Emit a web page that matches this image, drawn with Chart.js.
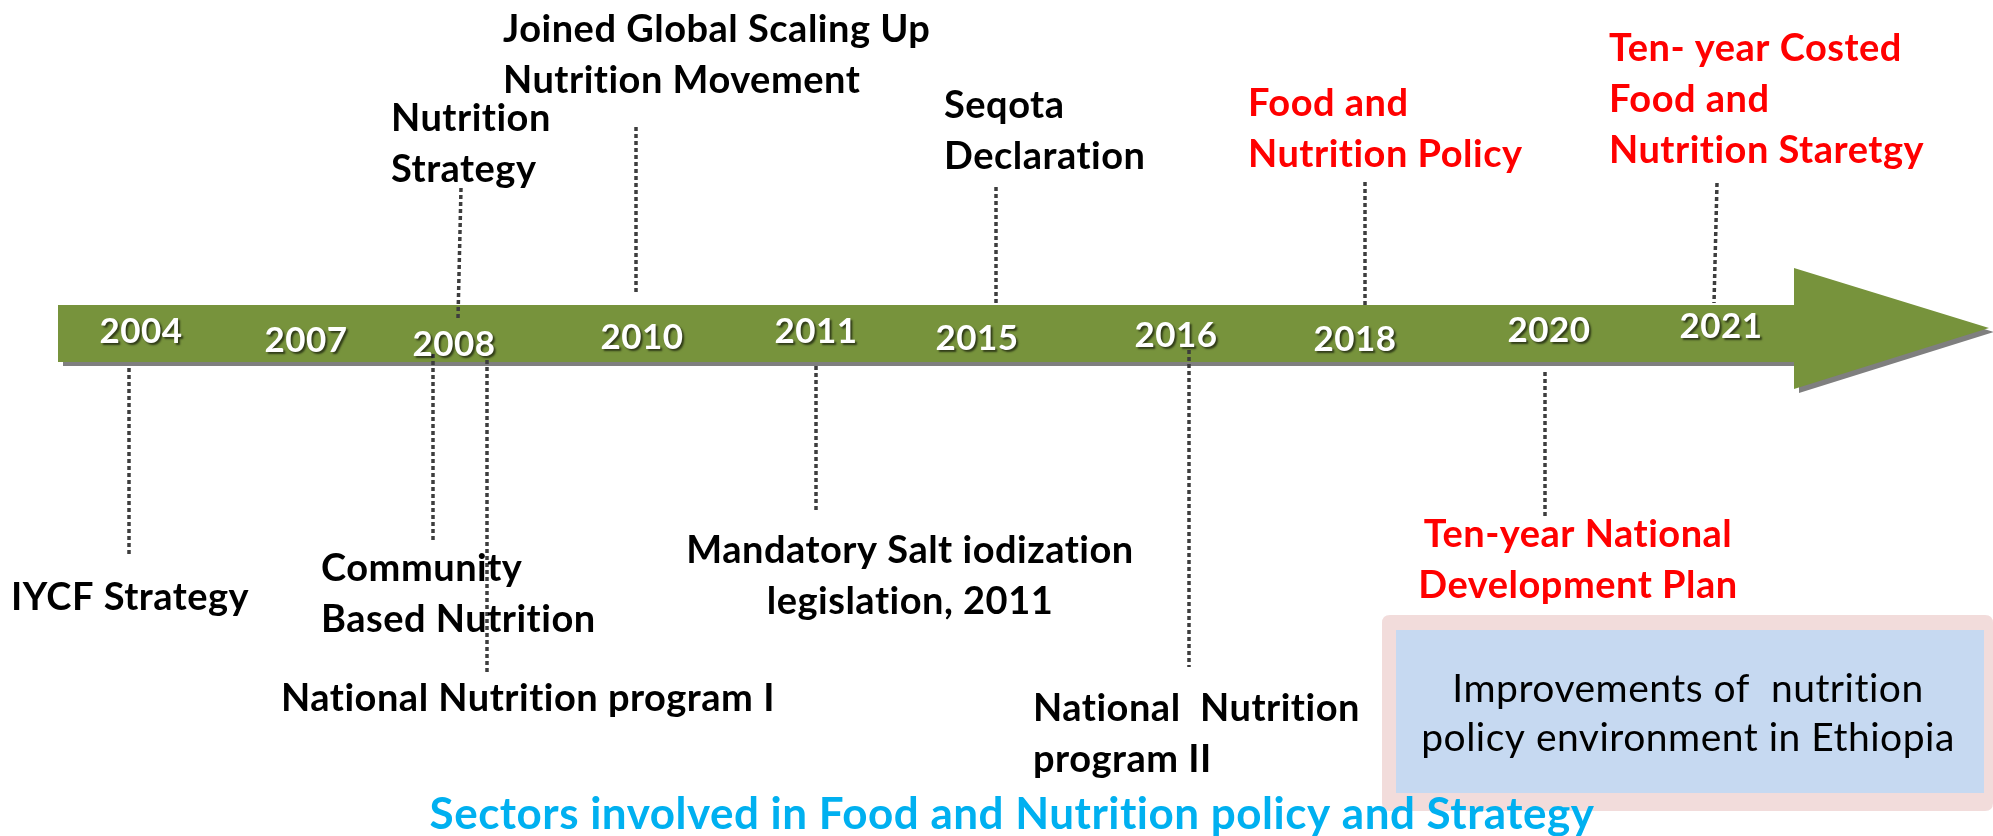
<!DOCTYPE html>
<html>
<head>
<meta charset="utf-8">
<script src="https://cdn.jsdelivr.net/npm/chart.js@4.4.1/dist/chart.umd.min.js"></script>
<style>
  html, body { margin: 0; padding: 0; background: #ffffff; }
  #wrap { position: relative; width: 1993px; height: 836px; }
</style>
</head>
<body>
<div id="wrap"><canvas id="c"></canvas></div>
<script>
// ---------- Data ----------
const yearLabels = ['2004', '2007', '2008', '2010', '2011', '2015', '2016', '2018', '2020', '2021'];
const yearX = [141, 306, 454, 642, 816, 977, 1176, 1355, 1549, 1721];
const yearY = [330, 339, 343, 336, 330, 337, 334, 338, 329, 325];

const eventLines = [
  ['Joined Global Scaling Up', 'Nutrition Movement'],
  ['Nutrition', 'Strategy'],
  ['Seqota', 'Declaration'],
  ['Food and', 'Nutrition Policy'],
  ['Ten- year Costed', 'Food and', 'Nutrition Staretgy'],
  ['IYCF Strategy'],
  ['Community', 'Based Nutrition'],
  ['National Nutrition program I'],
  ['Mandatory Salt iodization', 'legislation, 2011'],
  ['National  Nutrition', 'program II'],
  ['Ten-year National', 'Development Plan']
];
const eventX = [503, 391, 944, 1248, 1609, 11, 321, 281, 910, 1033, 1578];
const eventY = [28, 117, 104, 102, 47, 596, 567, 697, 549, 707, 533];
const eventAlign = ['left', 'left', 'left', 'left', 'left', 'left', 'left', 'left', 'center', 'left', 'center'];
const eventHighlight = [false, false, false, true, true, false, false, false, false, false, true];

// dotted connectors: start (x1,y1) -> end (x2,y2)
const connX1 = [129, 433, 487, 461, 636, 816, 996, 1189, 1365, 1545, 1717];
const connY1 = [368, 354, 360, 188, 127, 366, 187, 343, 182, 372, 183];
const connX2 = [129, 433, 487, 458, 636, 816, 996, 1189, 1365, 1545, 1714];
const connY2 = [555, 540, 674, 318, 292, 512, 303, 667, 305, 517, 303];

const boxLines = ['Improvements of  nutrition', 'policy environment in Ethiopia'];
const footerText = 'Sectors involved in Food and Nutrition policy and Strategy';

// ---------- Styles ----------
const FONT = 'Lato, "Open Sans", "DejaVu Sans", sans-serif';
const GREEN = '#77933C';
const SHADOW = '#7F7F7F';
const RED = '#FF0000';
const BLUE = '#00B0F0';

const connectorDatasets = connX1.map((x1, i) => ({
  data: [{ x: x1, y: connY1[i] }, { x: connX2[i], y: connY2[i] }],
  showLine: true,
  borderColor: '#3d3d3d',
  borderWidth: 3.5,
  borderDash: [4, 3],
  borderCapStyle: 'butt',
  pointRadius: 0,
  pointHoverRadius: 0,
  fill: false,
  clip: false
}));

const diagramPlugin = {
  id: 'diagram',
  beforeDatasetsDraw(chart) {
    const { ctx, scales: { x, y } } = chart;
    const px = v => x.getPixelForValue(v);
    const py = v => y.getPixelForValue(v);
    ctx.save();
    const arrowPath = (dx, dy) => {
      ctx.beginPath();
      ctx.moveTo(px(58) + dx, py(305) + dy);
      ctx.lineTo(px(1794) + dx, py(305) + dy);
      ctx.lineTo(px(1794) + dx, py(268) + dy);
      ctx.lineTo(px(1989) + dx, py(328) + dy);
      ctx.lineTo(px(1794) + dx, py(389) + dy);
      ctx.lineTo(px(1794) + dx, py(362) + dy);
      ctx.lineTo(px(58) + dx, py(362) + dy);
      ctx.closePath();
    };
    arrowPath(5, 4);
    ctx.fillStyle = SHADOW;
    ctx.fill();
    arrowPath(0, 0);
    ctx.fillStyle = GREEN;
    ctx.fill();

    const rr = (x0, y0, x1, y1, r) => {
      ctx.beginPath();
      ctx.moveTo(x0 + r, y0);
      ctx.lineTo(x1 - r, y0);
      ctx.quadraticCurveTo(x1, y0, x1, y0 + r);
      ctx.lineTo(x1, y1 - r);
      ctx.quadraticCurveTo(x1, y1, x1 - r, y1);
      ctx.lineTo(x0 + r, y1);
      ctx.quadraticCurveTo(x0, y1, x0, y1 - r);
      ctx.lineTo(x0, y0 + r);
      ctx.quadraticCurveTo(x0, y0, x0 + r, y0);
      ctx.closePath();
    };
    rr(px(1382), py(615), px(1993), py(811), 8);
    ctx.fillStyle = '#F2DCDB';
    ctx.fill();
    ctx.fillStyle = '#C6D9F1';
    ctx.fillRect(px(1396), py(630), px(1984) - px(1396), py(793) - py(630));
    ctx.restore();
  },
  afterDatasetsDraw(chart) {
    const { ctx, scales: { x, y } } = chart;
    const px = v => x.getPixelForValue(v);
    const py = v => y.getPixelForValue(v);
    const CAP = 0.7165;
    ctx.save();
    ctx.textBaseline = 'alphabetic';
    if ('letterSpacing' in ctx) ctx.letterSpacing = '0.5px';

    // year labels on the arrow
    ctx.font = 'bold 35px ' + FONT;
    ctx.textAlign = 'center';
    ctx.fillStyle = '#FFFFFF';
    ctx.shadowColor = 'rgba(0,0,0,0.6)';
    ctx.shadowOffsetX = 2;
    ctx.shadowOffsetY = 2;
    ctx.shadowBlur = 2;
    yearLabels.forEach((t, i) => {
      ctx.fillText(t, px(yearX[i]), py(yearY[i]) + 35 * CAP / 2);
    });
    ctx.shadowColor = 'transparent';
    ctx.shadowOffsetX = 0;
    ctx.shadowOffsetY = 0;
    ctx.shadowBlur = 0;

    // event labels
    const size = 38;
    const lh = 51;
    ctx.font = 'bold ' + size + 'px ' + FONT;
    eventLines.forEach((lines, i) => {
      ctx.textAlign = eventAlign[i];
      ctx.fillStyle = eventHighlight[i] ? RED : '#000000';
      lines.forEach((t, j) => {
        ctx.fillText(t, px(eventX[i]), py(eventY[i]) + j * lh + size * CAP / 2);
      });
    });

    // box text
    ctx.font = '39px ' + FONT;
    ctx.textAlign = 'center';
    ctx.fillStyle = '#000000';
    boxLines.forEach((t, j) => {
      ctx.fillText(t, px(1688), py(688) + j * 49 + 39 * CAP / 2);
    });

    // footer
    ctx.font = 'bold 44px ' + FONT;
    ctx.textAlign = 'center';
    ctx.fillStyle = BLUE;
    ctx.fillText(footerText, px(1012), py(813) + 44 * CAP / 2);
    ctx.restore();
  }
};

function build() {
  new Chart(document.getElementById('c'), {
    type: 'scatter',
    data: { datasets: connectorDatasets },
    options: {
      responsive: true,
      maintainAspectRatio: false,
      animation: false,
      devicePixelRatio: 1,
      layout: { padding: 0 },
      events: [],
      plugins: { legend: { display: false }, tooltip: { enabled: false }, title: { display: false } },
      scales: {
        x: { type: 'linear', min: 0, max: 1993, display: false },
        y: { type: 'linear', min: 0, max: 836, reverse: true, display: false }
      }
    },
    plugins: [diagramPlugin]
  });
}

const fontLoads = document.fonts ? Promise.all([
  document.fonts.load('bold 40px Lato'),
  document.fonts.load('40px Lato')
]).catch(() => {}) : Promise.resolve();
Promise.race([fontLoads, new Promise(r => setTimeout(r, 800))]).then(build);
</script>
</body>
</html>
